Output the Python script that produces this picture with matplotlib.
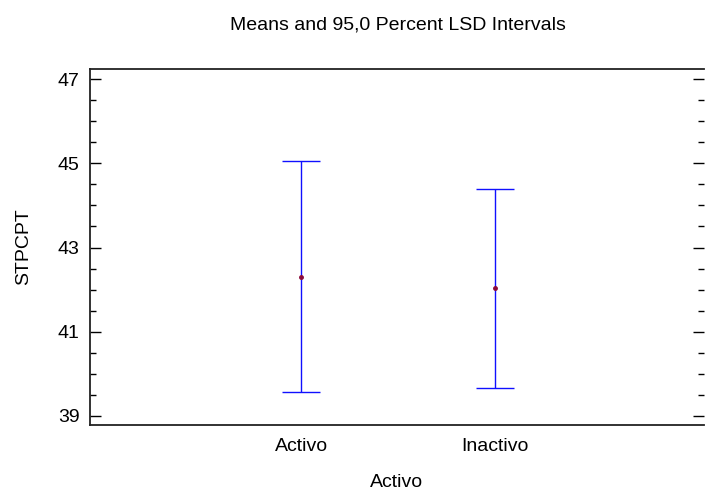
import numpy as np
import matplotlib
matplotlib.use('Agg')
import matplotlib.pyplot as plt
from matplotlib.ticker import MultipleLocator

# 各组均值与 95% LSD 区间
groups = ["Activo", "Inactivo"]
means = [42.31, 42.03]
lower = [39.56, 39.66]
upper = [45.06, 44.40]

plt.rcParams['font.family'] = ['Liberation Sans', 'DejaVu Sans']
FS = 14

fig = plt.figure(figsize=(7.05, 4.91), dpi=100)
ax = fig.add_axes([90 / 705, 1 - 425 / 491, 614 / 705, 356 / 491])

x = np.arange(1, len(groups) + 1)
m = np.array(means)
yerr = np.vstack([m - np.array(lower), np.array(upper) - m])
ax.errorbar(x, m, yerr=yerr, fmt='none', ecolor='#1010ff', elinewidth=1.0,
            capsize=13.5, capthick=1.0)
ax.plot(x, m, 'o', color='#8b0a3a', markersize=2.5, zorder=3)

ax.set_xlim(-0.094, 3.083)
ax.set_ylim(38.78, 47.245)
ax.set_xticks(x)
ax.set_xticklabels(groups, fontsize=FS)
ax.yaxis.set_major_locator(MultipleLocator(2))
ax.yaxis.set_minor_locator(MultipleLocator(0.5))
ax.set_yticks([39, 41, 43, 45, 47])

ax.tick_params(axis='x', length=0, pad=9.5)
ax.tick_params(axis='y', which='major', direction='in', length=8, width=1,
               right=True, labelsize=FS, pad=7.5)
ax.tick_params(axis='y', which='minor', direction='in', length=4, width=1,
               right=True)

ax.spines['right'].set_visible(False)
for s in ['left', 'top', 'bottom']:
    ax.spines[s].set_linewidth(1.3)
    ax.spines[s].set_color('#222222')

ax.set_xlabel("Activo", fontsize=FS, labelpad=13.5)
ax.set_ylabel("STPCPT", fontsize=FS, labelpad=18.5)

fig.text(398 / 705, 1 - 25 / 491, "Means and 95,0 Percent LSD Intervals",
         ha='center', va='center', fontsize=FS)

fig.savefig("out.png", dpi=100)
